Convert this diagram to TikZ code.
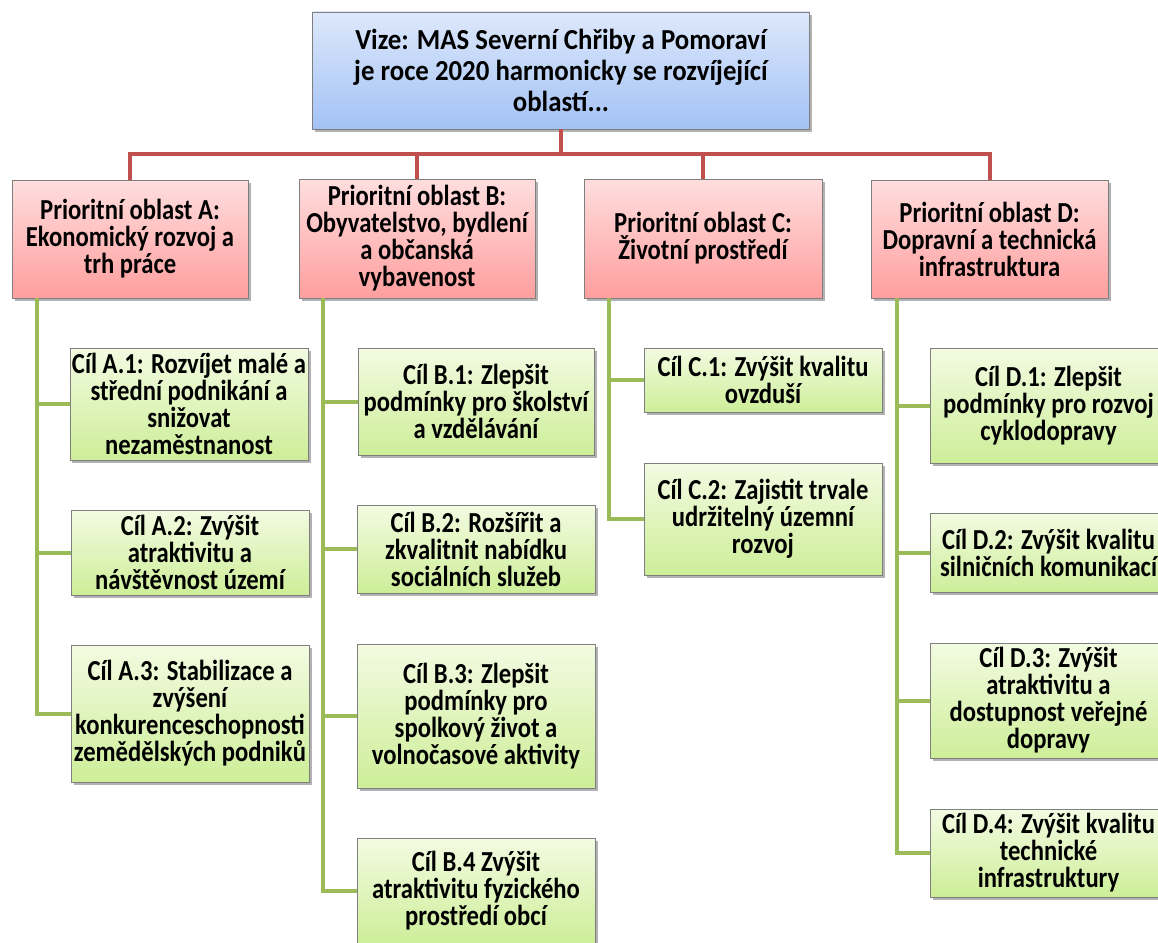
\documentclass[tikz,border=0pt]{standalone}
\usepackage{fontspec}
\setmainfont{Carlito}
\newfontfamily\gfont[FakeStretch=0.85]{Carlito}
\newfontfamily\vfont[FakeStretch=0.925]{Carlito}
\usetikzlibrary{shadows}
\definecolor{blueT}{HTML}{DDE8FB}
\definecolor{blueB}{HTML}{A3C2F5}
\definecolor{redT}{HTML}{FFDEDE}
\definecolor{redB}{HTML}{FF9E9E}
\definecolor{greenT}{HTML}{F3FBE2}
\definecolor{greenB}{HTML}{CDEE98}
\definecolor{redL}{HTML}{C0504D}
\definecolor{greenL}{HTML}{9BBB59}
\definecolor{borderC}{HTML}{7F7F7F}
\begin{document}
\begin{tikzpicture}[x=1pt,y=-1pt,
  box/.style={draw=borderC, line width=0.8pt, align=center, inner sep=2pt,
    font=\gfont\bfseries\fontsize{29}{27}\selectfont,
    drop shadow={shadow xshift=2.5pt, shadow yshift=-3pt, fill=black, opacity=0.3}},
  vbox/.style={box, top color=blueT, bottom color=blueB, font=\vfont\bfseries\fontsize{29}{31}\selectfont},
  pbox/.style={box, top color=redT, bottom color=redB},
  gbox/.style={box, top color=greenT, bottom color=greenB},
  rline/.style={draw=redL, line width=4pt},
  gline/.style={draw=greenL, line width=4pt}]
\useasboundingbox (0,0) rectangle (1158,942);
\clip (0,0) rectangle (1158,942);

\coordinate (bus) at (562,154);
\coordinate (gA) at (37,0);
\coordinate (gB) at (323,0);
\coordinate (gC) at (609,0);
\coordinate (gD) at (897,0);

\node[vbox, minimum width=497pt, minimum height=117pt] (top) at (561,70.5)
  {Vize: MAS Severní Chřiby a Pomoraví\\je roce 2020 harmonicky se rozvíjející\\oblastí...};

\node[pbox, minimum width=236pt, minimum height=118pt] (A) at (130,239)
  {Prioritní oblast A:\\Ekonomický rozvoj a\\trh práce};
\node[pbox, minimum width=236pt, minimum height=119pt] (B) at (417,238.5)
  {Prioritní oblast B:\\Obyvatelstvo, bydlení\\a občanská\\vybavenost};
\node[pbox, minimum width=238pt, minimum height=119pt] (C) at (703,238.5)
  {Prioritní oblast C:\\Životní prostředí};
\node[pbox, minimum width=237pt, minimum height=118pt] (D) at (989.5,239)
  {Prioritní oblast D:\\Dopravní a technická\\infrastruktura};

\draw[rline] (top.south) -- (top.south |- bus);
\draw[rline] (A.north) |- (bus) -| (D.north);
\draw[rline] (B.north) -- (B.north |- bus);
\draw[rline] (C.north) -- (C.north |- bus);

\node[gbox, minimum width=236pt, minimum height=112pt] (a1) at (189,404)
  {Cíl A.1: Rozvíjet malé a\\střední podnikání a\\snižovat\\nezaměstnanost};
\node[gbox, minimum width=238pt, minimum height=85pt] (a2) at (190,552.5)
  {Cíl A.2: Zvýšit\\atraktivitu a\\návštěvnost území};
\node[gbox, minimum width=238pt, minimum height=137pt] (a3) at (190,713.5)
  {Cíl A.3: Stabilizace a\\zvýšení\\konkurenceschopnosti\\zemědělských podniků};
\node[gbox, minimum width=236pt, minimum height=107pt] (b1) at (476,401.5)
  {Cíl B.1: Zlepšit\\podmínky pro školství\\a vzdělávání};
\node[gbox, minimum width=238pt, minimum height=88pt] (b2) at (476,549)
  {Cíl B.2: Rozšířit a\\zkvalitnit nabídku\\sociálních služeb};
\node[gbox, minimum width=238pt, minimum height=144pt] (b3) at (476,716)
  {Cíl B.3: Zlepšit\\podmínky pro\\spolkový život a\\volnočasové aktivity};
\node[gbox, minimum width=238pt, minimum height=106pt] (b4) at (476,891)
  {Cíl B.4 Zvýšit\\atraktivitu fyzického\\prostředí obcí};
\node[gbox, minimum width=238pt, minimum height=64pt] (c1) at (763,380)
  {Cíl C.1: Zvýšit kvalitu\\ovzduší};
\node[gbox, minimum width=238pt, minimum height=112pt] (c2) at (763,519)
  {Cíl C.2: Zajistit trvale\\udržitelný územní\\rozvoj};
\node[gbox, minimum width=237pt, minimum height=115pt] (d1) at (1048.5,405.5)
  {Cíl D.1: Zlepšit\\podmínky pro rozvoj\\cyklodopravy};
\node[gbox, minimum width=237pt, minimum height=79pt] (d2) at (1048.5,552.5)
  {Cíl D.2: Zvýšit kvalitu\\silničních komunikací};
\node[gbox, minimum width=237pt, minimum height=115pt] (d3) at (1048.5,700.5)
  {Cíl D.3: Zvýšit\\atraktivitu a\\dostupnost veřejné\\dopravy};
\node[gbox, minimum width=237pt, minimum height=88pt] (d4) at (1048.5,853)
  {Cíl D.4: Zvýšit kvalitu\\technické\\infrastruktury};

\draw[gline] (gA |- A.south) |- (a3.west);
\draw[gline] (gA |- a1.west) -- (a1.west);
\draw[gline] (gA |- a2.west) -- (a2.west);
\draw[gline] (gB |- B.south) |- (b4.west);
\draw[gline] (gB |- b1.west) -- (b1.west);
\draw[gline] (gB |- b2.west) -- (b2.west);
\draw[gline] (gB |- b3.west) -- (b3.west);
\draw[gline] (gC |- C.south) |- (c2.west);
\draw[gline] (gC |- c1.west) -- (c1.west);
\draw[gline] (gD |- D.south) |- (d4.west);
\draw[gline] (gD |- d1.west) -- (d1.west);
\draw[gline] (gD |- d2.west) -- (d2.west);
\draw[gline] (gD |- d3.west) -- (d3.west);
\end{tikzpicture}
\end{document}
